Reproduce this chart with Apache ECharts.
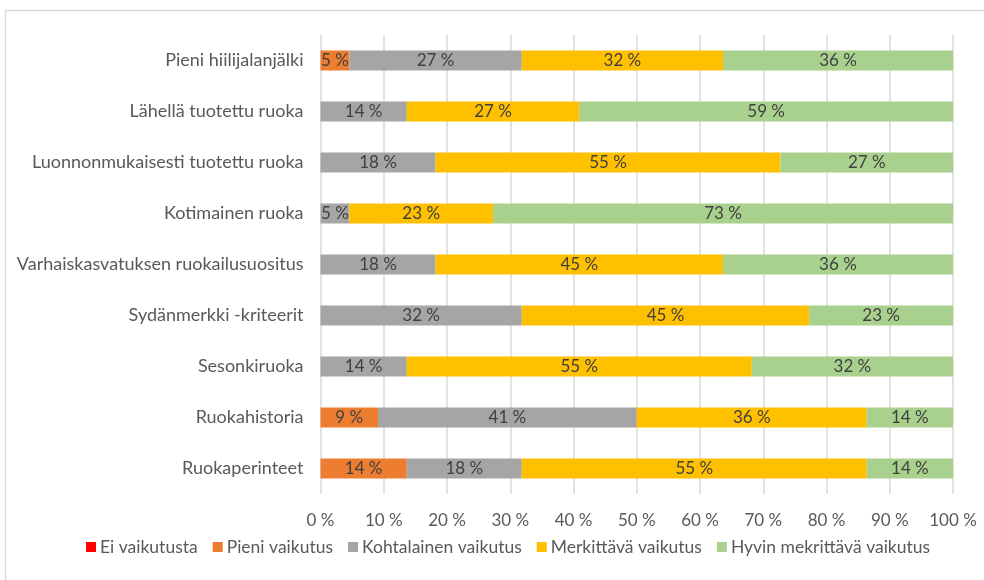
<!DOCTYPE html>
<html>
<head>
<meta charset="utf-8">
<script src="https://cdn.jsdelivr.net/npm/echarts@6/dist/echarts.min.js"></script>
<style>html,body{margin:0;padding:0;background:#fff}#c{width:984px;height:580px}</style>
</head>
<body>
<div id="c"></div>
<script>
const categories = ['Pieni hiilijalanjälki','Lähellä tuotettu ruoka','Luonnonmukaisesti tuotettu ruoka','Kotimainen ruoka','Varhaiskasvatuksen ruokailusuositus','Sydänmerkki -kriteerit','Sesonkiruoka','Ruokahistoria','Ruokaperinteet'];
const seriesNames = ['Ei vaikutusta','Pieni vaikutus','Kohtalainen vaikutus','Merkittävä vaikutus','Hyvin mekrittävä vaikutus'];
const eiVaikutusta = [0,0,0,0,0,0,0,0,0];
const pieniVaikutus = [4.55,0,0,0,0,0,0,9.09,13.64];
const kohtalainen = [27.27,13.64,18.18,4.55,18.18,31.82,13.64,40.91,18.18];
const merkittava = [31.82,27.27,54.55,22.73,45.45,45.45,54.55,36.36,54.55];
const hyvinMerkittava = [36.36,59.09,27.27,72.73,36.36,22.73,31.82,13.64,13.64];
const xTicks = [0,10,20,30,40,50,60,70,80,90,100];

const colors = ['#FF0000','#ED7D31','#A5A5A5','#FFC000','#A9D18E'];
const values = [eiVaikutusta,pieniVaikutus,kohtalainen,merkittava,hyvinMerkittava];
const FONT = 'Lato';

const chart = echarts.init(document.getElementById('c'));
chart.setOption({
  animation:false,
  color:colors,
  graphic:[{type:'rect',shape:{x:5.5,y:10.5,width:1000,height:600},style:{fill:'none',stroke:'#d9d9d9',lineWidth:1.5},silent:true}],
  grid:{left:320.5,top:35,width:632.5,height:459,containLabel:false},
  legend:{
    bottom:19,left:81,itemWidth:10,itemHeight:10,itemGap:15,itemStyle:{borderWidth:0},icon:'rect',
    textStyle:{color:'#595959',fontSize:17.5,fontFamily:FONT,padding:[0,0,0,-1]},
    data:seriesNames
  },
  xAxis:{
    type:'value',min:xTicks[0],max:xTicks[xTicks.length-1],interval:10,
    axisLine:{show:false},axisTick:{show:false},
    splitLine:{lineStyle:{color:'#d9d9d9',width:1.5}},
    axisLabel:{color:'#595959',fontSize:17,fontFamily:FONT,margin:18,formatter:v=>v+' %'}
  },
  yAxis:{
    type:'category',inverse:true,data:categories,
    axisLine:{show:false},axisTick:{show:false},
    axisLabel:{color:'#595959',fontSize:18,fontFamily:FONT,margin:17}
  },
  series:seriesNames.map((n,i)=>({
    name:n,type:'bar',stack:'total',barWidth:20,
    data:values[i],
    itemStyle:{color:colors[i]},
    label:{show:true,position:'inside',color:'#404040',fontSize:17,fontFamily:FONT,
      formatter:p=>p.value>0?Math.round(p.value)+' %':''}
  }))
});
</script>
</body>
</html>
